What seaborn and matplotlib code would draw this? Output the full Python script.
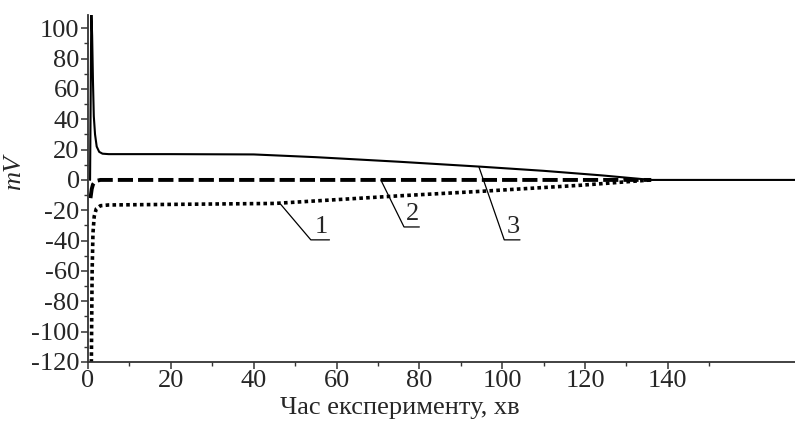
import numpy as np
import pandas as pd
import matplotlib
matplotlib.use("Agg")
import matplotlib.pyplot as plt
from matplotlib.ticker import MultipleLocator, FixedLocator
import seaborn as sns

sns.set_theme(style="ticks")
plt.rcParams["font.family"] = ["Liberation Serif", "DejaVu Serif"]
plt.rcParams["axes.unicode_minus"] = False

# curve 1 (dotted)
t1 = [0.8, 0.9, 1.0, 1.2, 1.5, 2.0, 3.0, 5.0, 25, 45, 60, 75, 95, 119, 136]
v1 = [-125, -90, -60, -35, -24, -19, -17, -16.5, -16, -15.5, -13, -10.5, -7.5, -3.5, 0]

# curve 2 (dashed)
t2 = [0.6, 0.9, 1.2, 1.6, 2.2, 3.0, 136]
v2 = [-12, -6, -3, -1.5, -0.5, 0, 0]

# curve 3 (solid)
t3 = [0.5, 0.8, 1.0, 1.2, 1.4, 1.7, 2.1, 2.7, 3.5, 5.0, 20, 40, 55, 75, 95, 110, 124, 136, 150, 171]
v3 = [0, 112, 95, 65, 42, 30, 22, 18.5, 17.3, 17.0, 17, 16.8, 15, 12, 8.7, 6, 3, 0, 0, 0]

x_ticks = [0, 20, 40, 60, 80, 100, 120, 140]
y_ticks = [-120, -100, -80, -60, -40, -20, 0, 20, 40, 60, 80, 100]

# curve labels: (text, leader start, leader end, underline end)
labels = [
    ("1", (46.5, -16), (53.8, -39.5), (58.3, -39.5)),
    ("2", (70.7, 0), (76.3, -31), (80.0, -31)),
    ("3", (94.4, 8.5), (100.5, -39.5), (104.3, -39.5)),
]


def main():
    fig = plt.figure(figsize=(7.95, 4.21), dpi=100)
    ax = fig.add_axes([88 / 795, 1 - 362 / 421, 707 / 795, 347 / 421])

    sns.lineplot(x=t3, y=v3, ax=ax, color="black", lw=1.5, sort=False)
    sns.lineplot(x=t2, y=v2, ax=ax, color="black", lw=2.8,
                 linestyle=(0, (3.9, 1.3)), sort=False)
    sns.lineplot(x=t1, y=v1, ax=ax, color="black", lw=2.6,
                 linestyle=(0, (1, 0.9)), sort=False)

    # leader lines with underlined numbers
    for txt, p0, p1, p2 in labels:
        ax.plot([p0[0], p1[0], p2[0]], [p0[1], p1[1], p2[1]],
                color="black", lw=0.9)
        ax.text((p1[0] + p2[0]) / 2 + 0.3, p1[1] + 1.2, txt, ha="center",
                va="bottom", fontsize=19)

    ax.set_xlim(0, 170.7)
    ax.set_ylim(-120, 108.7)
    ax.xaxis.set_major_locator(FixedLocator(x_ticks))
    ax.xaxis.set_minor_locator(FixedLocator(list(range(10, 151, 20))))
    ax.yaxis.set_major_locator(FixedLocator(y_ticks))
    ax.yaxis.set_minor_locator(MultipleLocator(10))

    ax.tick_params(which="major", direction="out", length=5, width=1.1,
                   labelsize=19, pad=1, color="#333333")
    ax.tick_params(which="minor", direction="out", length=3, width=1.0,
                   color="#333333")

    for side in ["top", "right"]:
        ax.spines[side].set_visible(False)
    for side in ["left", "bottom"]:
        ax.spines[side].set_linewidth(1.3)
        ax.spines[side].set_color("#333333")

    ax.set_xlabel("Час експерименту, хв", fontsize=19)
    ax.xaxis.set_label_coords(312 / 707, -0.10)
    ax.set_ylabel("mV", fontsize=19, style="italic")
    ax.yaxis.set_label_coords(-63 / 707, (362 - 172) / 347)

    fig.savefig("out.png", dpi=100, facecolor="white")


if __name__ == "__main__":
    main()
